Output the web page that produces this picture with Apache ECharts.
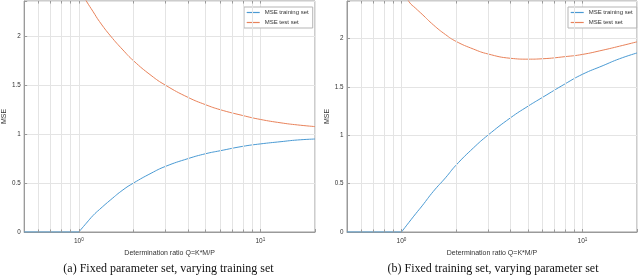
<!DOCTYPE html>
<html>
<head>
<meta charset="utf-8">
<script src="https://cdn.jsdelivr.net/npm/echarts@6/dist/echarts.min.js"></script>
<style>
html,body{margin:0;padding:0;background:#fff;}
#c{width:640px;height:276px;}
</style>
</head>
<body>
<div id="c"></div>
<script>
// ---- data ----
const qZero   = [0.5, 1];
const zeroVal = [0, 0];
const qTrain  = [1, 1.1, 1.2, 1.3, 1.5, 1.75, 2, 2.5, 3, 4, 5, 6, 8, 10, 13, 16, 20];
const trainA  = [0, 0.09, 0.17, 0.23, 0.33, 0.43, 0.50, 0.60, 0.67, 0.75, 0.80, 0.83, 0.875, 0.90, 0.923, 0.94, 0.95];
const trainB  = [0, 0.10, 0.19, 0.27, 0.42, 0.56, 0.69, 0.87, 1.00, 1.18, 1.30, 1.39, 1.53, 1.63, 1.72, 1.79, 1.85];
const qTest   = [1.05, 1.1, 1.2, 1.3, 1.5, 1.75, 2, 2.5, 3, 4, 5, 6, 8, 10, 13, 16, 20];
const testA   = [2.43, 2.36, 2.25, 2.15, 2.0, 1.86, 1.75, 1.6, 1.5, 1.375, 1.3, 1.25, 1.19, 1.15, 1.115, 1.094, 1.077];
const testB   = [2.47, 2.38, 2.31, 2.25, 2.14, 2.04, 1.97, 1.89, 1.84, 1.795, 1.786, 1.79, 1.812, 1.835, 1.88, 1.92, 1.965];
const minorQ  = [0.6, 0.7, 0.8, 0.9, 2, 3, 4, 5, 6, 7, 8, 9];
const yTicks  = [0, 0.5, 1, 1.5, 2];
const xMin = 0.5, xMax = 20;
const yMaxA = 2.36, yMaxB = 2.387;
const names = ['MSE training set', 'MSE test set'];
const captions = ['(a) Fixed parameter set, varying training set', '(b) Fixed training set, varying parameter set'];

const BLUE = '#4a9ad3', ORANGE = '#e8825a';
const AX = '#9a9a9a', GRID = '#e4e4e4';
const FONT = 'Liberation Sans';

const pairs = (xs, ys) => xs.map((x, i) => [x, ys[i]]);

const chart = echarts.init(document.getElementById('c'), null, {renderer: 'canvas'});

function xAxisDef(gi) {
  return {
    type: 'log', logBase: 10, gridIndex: gi, min: xMin, max: xMax,
    axisLine: {lineStyle: {color: AX, width: 1}},
    axisTick: {inside: true, length: 3, lineStyle: {color: AX}},
    splitLine: {show: true, lineStyle: {color: GRID, width: 1}},
    axisLabel: {
      margin: 5, color: '#333', fontFamily: FONT,
      formatter: v => Math.abs(v - 1) < 1e-6 ? '{b|10}{s|0}' : (Math.abs(v - 10) < 1e-6 ? '{b|10}{s|1}' : ''),
      rich: {
        b: {fontSize: 6.5, fontFamily: FONT, color: '#333', lineHeight: 9},
        s: {fontSize: 4.6, fontFamily: FONT, color: '#333', verticalAlign: 'top', lineHeight: 5}
      }
    },
    name: 'Determination ratio Q=K*M/P', nameLocation: 'middle', nameGap: 16,
    nameTextStyle: {fontSize: 7, fontFamily: FONT, color: '#333'}
  };
}
function yAxisDef(gi, ymax) {
  return {
    type: 'value', gridIndex: gi, min: 0, max: ymax, interval: 0.5,
    axisLine: {show: true, lineStyle: {color: AX, width: 1}},
    axisTick: {show: true, inside: true, length: 3, lineStyle: {color: AX}},
    splitLine: {show: true, lineStyle: {color: GRID, width: 1}},
    axisLabel: {
      margin: 3.5, fontSize: 6.3, fontFamily: FONT, color: '#333',
      formatter: v => yTicks.some(t => Math.abs(t - v) < 1e-9) ? String(v) : ''
    },
    name: 'MSE', nameLocation: 'middle', nameGap: 14,
    nameTextStyle: {fontSize: 7, fontFamily: FONT, color: '#333'}
  };
}
function gridMarks(gi, ymax) {
  const lines = minorQ.map(q => ({xAxis: q}));
  const ticks = [];
  minorQ.concat([1, 10]).forEach(q => {
    ticks.push([{coord: [q, 0]}, {coord: [q, ymax * 0.011]}]);
    ticks.push([{coord: [q, ymax]}, {coord: [q, ymax * 0.989]}]);
  });
  return [{
    type: 'line', xAxisIndex: gi, yAxisIndex: gi, data: [], silent: true, z: 1,
    markLine: {
      silent: true, symbol: 'none', animation: false, label: {show: false},
      lineStyle: {color: GRID, type: 'solid', width: 1},
      data: lines
    }
  }, {
    type: 'line', xAxisIndex: gi, yAxisIndex: gi, data: [], silent: true, z: 3,
    markLine: {
      silent: true, symbol: 'none', animation: false, label: {show: false},
      lineStyle: {color: AX, type: 'solid', width: 1},
      data: ticks
    }
  }];
}
function curves(gi, train, test) {
  const common = {type: 'line', xAxisIndex: gi, yAxisIndex: gi, showSymbol: false, symbol: 'none',
    clip: true, animation: false, z: 4};
  return [
    Object.assign({}, common, {name: names[0], data: pairs(qZero, zeroVal), lineStyle: {color: BLUE, width: 1}, itemStyle: {color: BLUE}}),
    Object.assign({}, common, {name: names[0], data: pairs(qTrain, train), smooth: true, lineStyle: {color: BLUE, width: 1}, itemStyle: {color: BLUE}}),
    Object.assign({}, common, {name: names[1], data: pairs(qTest, test), smooth: true, lineStyle: {color: ORANGE, width: 1}, itemStyle: {color: ORANGE}})
  ];
}
function legendDef(left) {
  return {
    data: names, orient: 'vertical', left: left, top: 7, itemGap: 1,
    itemWidth: 13, itemHeight: 1.2, icon: 'rect', itemSymbolKeepAspect: false,
    padding: [1, 4, 1, 2.7], itemStyle: {borderWidth: 0}, itemTextGap: 2,
    borderColor: '#b5b5b5', borderWidth: 1, backgroundColor: '#fff',
    textStyle: {fontSize: 6, fontFamily: FONT, color: '#333', lineHeight: 9},
    selectedMode: false
  };
}

const option = {
  backgroundColor: '#fff',
  animation: false,
  grid: [
    {left: 22, top: 1, width: 293, height: 231, show: true, borderColor: AX, borderWidth: 1, backgroundColor: 'transparent'},
    {left: 347, top: 1, width: 292, height: 231, show: true, borderColor: AX, borderWidth: 1, backgroundColor: 'transparent'}
  ],
  xAxis: [xAxisDef(0), xAxisDef(1)],
  yAxis: [yAxisDef(0, yMaxA), yAxisDef(1, yMaxB)],
  legend: [legendDef(244), legendDef(568)],
  graphic: [
    {type: 'text', x: 168.5, y: 268.5, style: {text: captions[0], align: 'center', verticalAlign: 'middle', fontFamily: 'Liberation Serif', fontSize: 12, fill: '#111'}},
    {type: 'text', x: 493, y: 269, style: {text: captions[1], align: 'center', verticalAlign: 'middle', fontFamily: 'Liberation Serif', fontSize: 12, fill: '#111'}}
  ],
  series: [].concat(gridMarks(0, yMaxA), gridMarks(1, yMaxB), curves(0, trainA, testA), curves(1, trainB, testB))
};
chart.setOption(option);
</script>
</body>
</html>
